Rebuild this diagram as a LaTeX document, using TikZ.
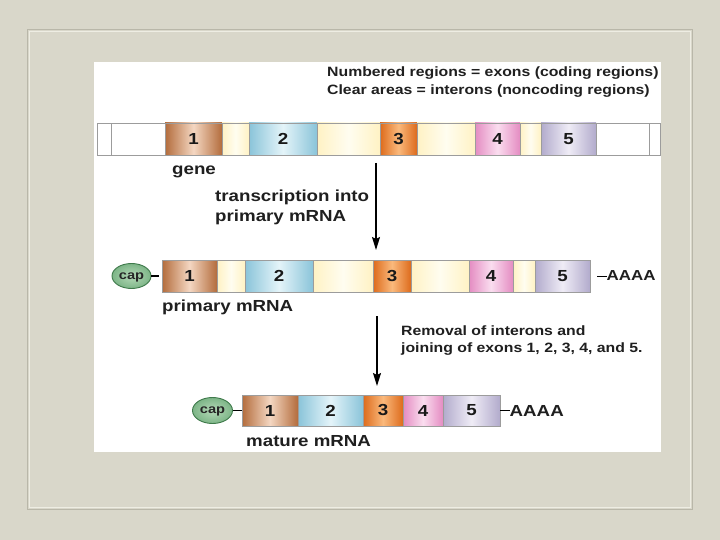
\documentclass[tikz,border=0pt]{standalone}
\usepackage{fontspec}
\setmainfont{Liberation Sans}[FakeStretch=1.17]
\usetikzlibrary{arrows.meta,shapes.geometric}
\definecolor{bgc}{HTML}{D9D7CA}
\definecolor{framedark}{HTML}{B9B7A9}
\definecolor{framelight}{HTML}{EEEDE3}
\definecolor{barline}{HTML}{9C9C9C}
\definecolor{eAd}{HTML}{B36C3C}\definecolor{eAl}{HTML}{F4D7C2}
\definecolor{eBd}{HTML}{8AC4D9}\definecolor{eBl}{HTML}{E4F4F9}
\definecolor{eCd}{HTML}{DD6B1C}\definecolor{eCl}{HTML}{FAB97C}
\definecolor{eDd}{HTML}{E48CC2}\definecolor{eDl}{HTML}{FADDEF}
\definecolor{eEd}{HTML}{B2ABCC}\definecolor{eEl}{HTML}{EFECF6}
\definecolor{inD}{HTML}{FFF2C4}\definecolor{inL}{HTML}{FFFDF0}
\definecolor{capfill}{HTML}{7DB587}\definecolor{capin}{HTML}{B5D9B8}\definecolor{capline}{HTML}{3F7A4B}
\tikzset{
  region/.style={draw=barline, line width=0.6pt, inner sep=0pt, minimum height=32pt,
    font=\bfseries\fontsize{16}{16}\selectfont, text=black!90},
  whitebox/.style={region, fill=white},
  intron/.style={region, left color=inD, right color=inD, middle color=inL},
  exA/.style={region, left color=eAd, right color=eAd, middle color=eAl},
  exB/.style={region, left color=eBd, right color=eBd, middle color=eBl},
  exC/.style={region, left color=eCd, right color=eCd, middle color=eCl},
  exD/.style={region, left color=eDd, right color=eDd, middle color=eDl},
  exE/.style={region, left color=eEd, right color=eEd, middle color=eEl},
  capnode/.style={ellipse, draw=capline, line width=0.9pt, inner color=capin, outer color=capfill,
    inner sep=0pt, text depth=0pt, font=\bfseries\fontsize{12.5}{12.5}\selectfont, text=black!85},
  label/.style={anchor=base west, inner sep=0pt, font=\bfseries\fontsize{16}{16}\selectfont, text=black!88},
  note/.style={anchor=base west, inner sep=0pt, font=\bfseries\fontsize{13.5}{13.5}\selectfont, text=black!88},
  tailtxt/.style={anchor=west, inner sep=0pt, font=\bfseries\fontsize{16}{16}\selectfont, text=black!88},
  link/.style={draw=black, line width=1.3pt},
  flow/.style={draw=black, line width=1.4pt, -{Stealth[length=13pt,width=8pt,inset=2pt]}}
}
\begin{document}
\begin{tikzpicture}[x=1pt,y=-1pt]
\useasboundingbox (0,0) rectangle (720,540);
\fill[bgc] (0,0) rectangle (720,540);
\draw[framedark, line width=1pt] (27,30) rectangle (692,509);
\draw[framelight, line width=1pt] (29,32) rectangle (690,507);
\fill[white] (94,62) rectangle (661,452);

% legend
\node[note] (leg1) at (327,77) {Numbered regions = exons (coding regions)};
\node[note] (leg2) at (327,95) {Clear areas = interons (noncoding regions)};

% gene
\node[whitebox, minimum width=14pt] (gw1) at (104,139) {};
\node[whitebox, minimum width=54pt] (gw2) at (138,139) {};
\node[exA, minimum width=57pt] (g1) at (193.5,139) {1};
\node[intron, minimum width=27pt] (gi1) at (235.5,139) {};
\node[exB, minimum width=68pt] (g2) at (283,139) {2};
\node[intron, minimum width=63pt] (gi2) at (348.5,139) {};
\node[exC, minimum width=37pt] (g3) at (398.5,139) {3};
\node[intron, minimum width=58pt] (gi3) at (446,139) {};
\node[exD, minimum width=45pt] (g4) at (497.5,139) {4};
\node[intron, minimum width=21pt] (gi4) at (530.5,139) {};
\node[exE, minimum width=55pt] (g5) at (568.5,139) {5};
\node[whitebox, minimum width=53pt] (gw3) at (622.5,139) {};
\node[whitebox, minimum width=11pt] (gw4) at (654.5,139) {};
\node[label] (gene) at (172,175) {gene};

\node[label] (tr1) at (215,202) {transcription into};
\node[label] (tr2) at (215,222) {primary mRNA};
\coordinate (a1s) at (376,163);
\coordinate (a1e) at (376,250);
\draw[flow] (a1s) -- (a1e);

% primary mRNA
\node[capnode, minimum width=39pt, minimum height=25pt] (pcap) at (131.5,276) {cap};
\node[exA, minimum width=55pt] (p1) at (189.5,276) {1};
\node[intron, minimum width=28pt] (pi1) at (231,276) {};
\node[exB, minimum width=68pt] (p2) at (279,276) {2};
\node[intron, minimum width=60pt] (pi2) at (343,276) {};
\node[exC, minimum width=38pt] (p3) at (392,276) {3};
\node[intron, minimum width=58pt] (pi3) at (440,276) {};
\node[exD, minimum width=44pt] (p4) at (491,276) {4};
\node[intron, minimum width=22pt] (pi4) at (524,276) {};
\node[exE, minimum width=55pt] (p5) at (562.5,276) {5};
\node[tailtxt, font=\bfseries\fontsize{14.5}{14.5}\selectfont] (pA) at (606.5,276) {AAAA};
\draw[link, shorten >=3pt] (pcap.east) -- (p1.west);
\draw[link, line width=1pt] ([xshift=7pt]p5.east) -- (pA.west);
\node[label] (plab) at (162,311) {primary mRNA};

\coordinate (a2s) at (377,316);
\coordinate (a2e) at (377,386);
\draw[flow] (a2s) -- (a2e);
\node[note] (rm1) at (401,335) {Removal of interons and};
\node[note] (rm2) at (401,352) {joining of exons 1, 2, 3, 4, and 5.};

% mature mRNA
\node[capnode, minimum width=40pt, minimum height=26pt] (mcap) at (212.5,410.5) {cap};
\node[exA, minimum width=56pt, minimum height=31pt] (m1) at (270,410.5) {1};
\node[exB, minimum width=65pt, minimum height=31pt] (m2) at (330.5,410.5) {2};
\node[exC, minimum width=40pt, minimum height=31pt] (m3) at (383,410.5) {3};
\node[exD, minimum width=40pt, minimum height=31pt] (m4) at (423,410.5) {4};
\node[exE, minimum width=57pt, minimum height=31pt] (m5) at (471.5,410.5) {5};
\node[tailtxt] (mA) at (509.5,410.5) {AAAA};
\draw[link, line width=1pt] (mcap.east) -- (m1.west);
\draw[link, line width=1pt] (m5.east) -- (mA.west);
\node[label] (mlab) at (246,446) {mature mRNA};
\end{tikzpicture}
\end{document}
